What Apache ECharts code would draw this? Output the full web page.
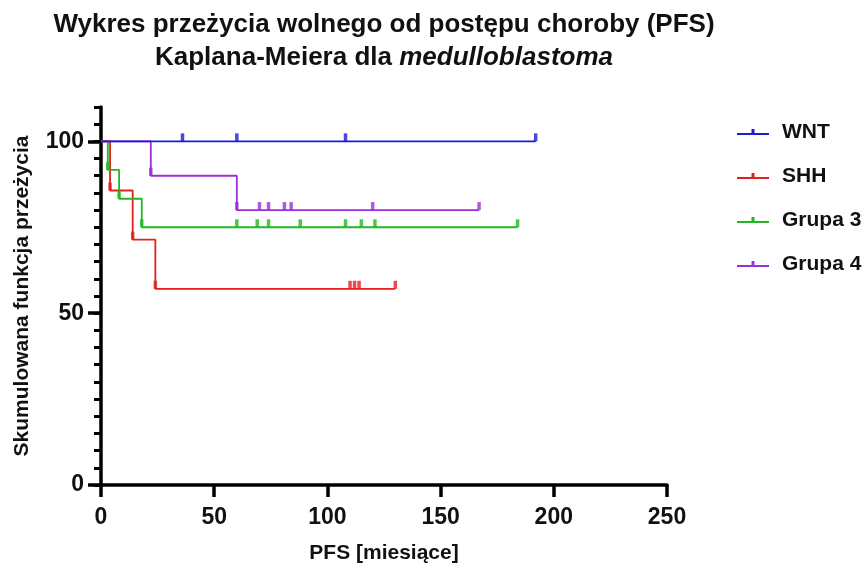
<!doctype html>
<html>
    <head>
        <meta charset="utf-8">
        <title>PFS Kaplan-Meier - medulloblastoma</title>
        <style>
            html, body { margin: 0; padding: 0; background: #fff; }
            #main { width: 863px; height: 573px; }
        </style>
    </head>
    <body>
        <div id="main"></div>
        <script src="https://cdn.jsdelivr.net/npm/echarts@6/dist/echarts.min.js"></script>
        <script>
            // Kaplan-Meier step points [months, % survival] and censored times per group
            var groups = ['WNT', 'SHH', 'Grupa 3', 'Grupa 4'];
            var colors = ['#1c1cd8', '#e3201c', '#22b822', '#9a2fd6'];

            var wntSteps = [[0, 100], [192, 100]];
            var wntCensor = [[36, 100], [60, 100], [108, 100], [192, 100]];

            var shhSteps = [[0, 100], [4, 85.7], [14, 71.4], [24, 57.1], [130, 57.1]];
            var shhCensor = [[4, 85.7], [14, 71.4], [24, 57.1], [110, 57.1], [112, 57.1], [114, 57.1], [130, 57.1]];

            var g3Steps = [[0, 100], [3, 91.7], [8, 83.3], [18, 75], [184, 75]];
            var g3Censor = [[3, 91.7], [8, 83.3], [18, 75], [60, 75], [69, 75], [74, 75], [88, 75],
                            [108, 75], [115, 75], [121, 75], [184, 75]];

            var g4Steps = [[0, 100], [22, 90], [60, 80], [167, 80]];
            var g4Censor = [[22, 90], [60, 80], [70, 80], [74, 80], [81, 80], [84, 80], [120, 80], [167, 80]];

            var xTicks = [0, 50, 100, 150, 200, 250];
            var yMajor = [0, 50, 100];

            var steps = [wntSteps, shhSteps, g3Steps, g4Steps];
            var censors = [wntCensor, shhCensor, g3Censor, g4Censor];
            var zOrder = [6, 3, 4, 5];

            var FONT = '"Liberation Sans", Arial, sans-serif';
            var chart = echarts.init(document.getElementById('main'));

            var series = [];
            groups.forEach(function (name, i) {
                series.push({
                    name: name,
                    type: 'line',
                    step: 'end',
                    showSymbol: false,
                    symbol: 'none',
                    z: zOrder[i],
                    color: colors[i],
                    lineStyle: { width: 1.8, color: colors[i] },
                    data: steps[i]
                });
                series.push({
                    name: name,
                    type: 'scatter',
                    symbol: 'rect',
                    symbolSize: [3.5, 8],
                    symbolOffset: [0, -4],
                    z: zOrder[i],
                    itemStyle: { color: colors[i] },
                    data: censors[i]
                });
            });

            chart.setOption({
                animation: false,
                grid: { left: 101, right: 196, top: 107, bottom: 88, outerBoundsMode: 'none' },
                graphic: [{
                    type: 'text',
                    x: 384, y: 25,
                    style: {
                        text: 'Wykres przeżycia wolnego od postępu choroby (PFS)',
                        font: 'bold 26px ' + FONT,
                        fill: '#111',
                        align: 'center', verticalAlign: 'middle'
                    }
                }, {
                    type: 'text',
                    x: 384, y: 58,
                    style: {
                        text: 'Kaplana-Meiera dla {i|medulloblastoma}',
                        font: 'bold 26px ' + FONT,
                        fill: '#111',
                        align: 'center', verticalAlign: 'middle',
                        rich: { i: { fontStyle: 'italic', fontWeight: 'bold', fontSize: 26, fontFamily: FONT, fill: '#111' } }
                    }
                }],
                legend: {
                    orient: 'vertical',
                    left: 732, top: 115,
                    itemWidth: 32, itemHeight: 6,
                    itemGap: 20,
                    icon: 'path://M0,4L32,4L32,6L0,6Z M14.5,0L17.5,0L17.5,4L14.5,4Z',
                    formatter: function (name) { return '{n|' + name + '}'; },
                    textStyle: {
                        fontFamily: FONT, fontWeight: 'bold', fontSize: 21, color: '#111', lineHeight: 24,
                        rich: { n: { fontFamily: FONT, fontWeight: 'bold', fontSize: 21, color: '#111', lineHeight: 24, padding: [0, 0, 0, 8] } }
                    },
                    data: groups
                },
                xAxis: {
                    type: 'value',
                    min: 0, max: 250, interval: 50,
                    name: 'PFS [miesiące]',
                    nameLocation: 'middle', nameGap: 58,
                    nameTextStyle: { fontFamily: FONT, fontWeight: 'bold', fontSize: 21, color: '#111' },
                    splitLine: { show: false },
                    axisLine: { lineStyle: { color: '#000', width: 3.5 } },
                    axisTick: { length: 12, lineStyle: { color: '#000', width: 3.5 } },
                    axisLabel: {
                        margin: 21, fontFamily: FONT, fontWeight: 'bold', fontSize: 23, color: '#111',
                        customValues: xTicks
                    }
                },
                yAxis: [{
                    type: 'value',
                    min: 0, max: 110, interval: 5,
                    position: 'left',
                    name: 'Skumulowana funkcja przeżycia',
                    nameLocation: 'middle', nameGap: 68,
                    nameTextStyle: { fontFamily: FONT, fontWeight: 'bold', fontSize: 21, color: '#111' },
                    splitLine: { show: false },
                    axisLine: { lineStyle: { color: '#000', width: 3.5 } },
                    axisTick: { length: 7, lineStyle: { color: '#000', width: 3 } },
                    axisLabel: {
                        margin: 17, fontFamily: FONT, fontWeight: 'bold', fontSize: 23, color: '#111',
                        customValues: yMajor
                    }
                }, {
                    type: 'value',
                    min: 0, max: 110, interval: 5,
                    position: 'left', offset: 0,
                    splitLine: { show: false },
                    axisLine: { show: false },
                    axisTick: { length: 13, lineStyle: { color: '#000', width: 3.5 }, customValues: yMajor },
                    axisLabel: { show: false }
                }],
                series: series
            });

            window.addEventListener('resize', function () {
                chart.resize();
            });
        </script>
    </body>
</html>
